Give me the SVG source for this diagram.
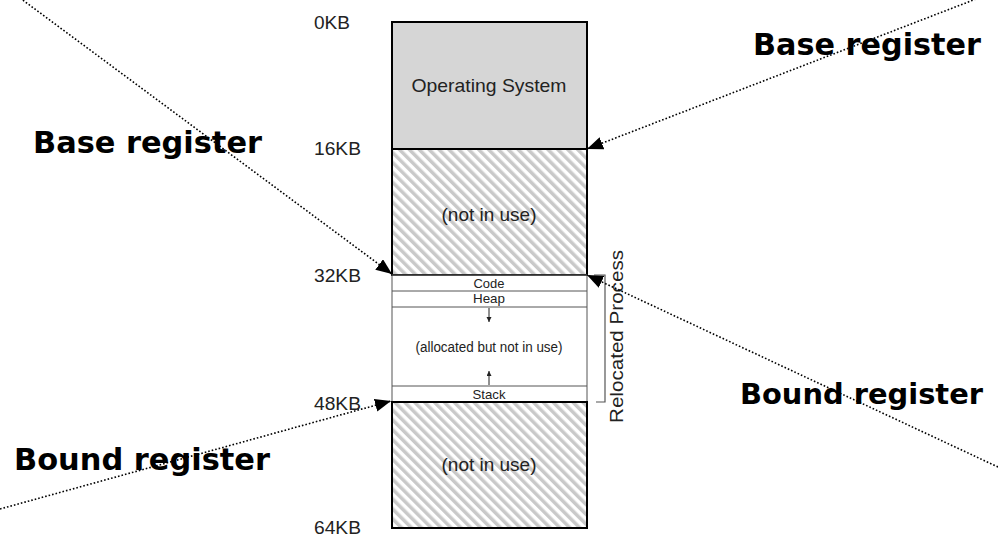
<svg xmlns="http://www.w3.org/2000/svg" width="998" height="537" viewBox="0 0 998 537">
  <style>
    .lbl { font-family: "Liberation Sans", Arial, sans-serif; fill: #222; }
    .reg { font-family: "DejaVu Sans", Verdana, sans-serif; font-weight: bold; fill: #000; }
    .conn { fill: none; stroke: #000; stroke-width: 1.6; stroke-dasharray: 1.6 2; }
    .thin { stroke: #555; stroke-width: 1; fill: none; }
  </style>
  <defs>
    <pattern id="hatch" patternUnits="userSpaceOnUse" width="7" height="7" patternTransform="rotate(-45)">
      <rect width="7" height="7" fill="#fff"/>
      <rect width="3.5" height="7" fill="#c9c9c9"/>
    </pattern>
    <marker id="ah" markerUnits="userSpaceOnUse" markerWidth="18" markerHeight="14" refX="16" refY="6.5" orient="auto">
      <path d="M0,0 L16,6.5 L0,13 z" fill="#000"/>
    </marker>
    <marker id="sh" markerUnits="userSpaceOnUse" markerWidth="6" markerHeight="6" refX="5" refY="2.5" orient="auto">
      <path d="M0,0 L5,2.5 L0,5 z" fill="#222"/>
    </marker>
  </defs>
  <rect width="998" height="537" fill="#fff"/>

  <g id="os">
    <rect x="392" y="22" width="195" height="127" fill="#d6d6d6" stroke="#000" stroke-width="2"/>
    <text class="lbl" x="489" y="92" font-size="19" text-anchor="middle" textLength="155" lengthAdjust="spacingAndGlyphs">Operating System</text>
  </g>
  <g id="free-top">
    <rect x="392" y="149" width="195" height="126" fill="url(#hatch)" stroke="#000" stroke-width="2"/>
    <text class="lbl" x="489" y="221" font-size="19" text-anchor="middle" textLength="95" lengthAdjust="spacingAndGlyphs">(not in use)</text>
  </g>
  <g id="process">
    <rect x="392" y="275" width="195" height="127" fill="#fff" stroke="#555" stroke-width="1"/>
    <line class="thin" x1="392" y1="291" x2="587" y2="291"/>
    <line class="thin" x1="392" y1="307" x2="587" y2="307"/>
    <line class="thin" x1="392" y1="386" x2="587" y2="386"/>
    <line x1="392" y1="275" x2="587" y2="275" stroke="#333" stroke-width="1.5"/>
    <text class="lbl" x="489" y="288" font-size="13" text-anchor="middle" textLength="31" lengthAdjust="spacingAndGlyphs">Code</text>
    <text class="lbl" x="489" y="303" font-size="13" text-anchor="middle" textLength="32" lengthAdjust="spacingAndGlyphs">Heap</text>
    <text class="lbl" x="489" y="352" font-size="14" text-anchor="middle" textLength="147" lengthAdjust="spacingAndGlyphs">(allocated but not in use)</text>
    <text class="lbl" x="489" y="399" font-size="13" text-anchor="middle" textLength="33" lengthAdjust="spacingAndGlyphs">Stack</text>
    <line x1="489" y1="308" x2="489" y2="322" stroke="#222" stroke-width="1" marker-end="url(#sh)"/>
    <line x1="489" y1="385" x2="489" y2="371" stroke="#222" stroke-width="1" marker-end="url(#sh)"/>
  </g>
  <g id="free-bottom">
    <rect x="392" y="402" width="195" height="126" fill="url(#hatch)" stroke="#000" stroke-width="2"/>
    <text class="lbl" x="489" y="471" font-size="19" text-anchor="middle" textLength="95" lengthAdjust="spacingAndGlyphs">(not in use)</text>
  </g>
  <g id="bracket">
    <path d="M594,275 H605 V402 H596" fill="none" stroke="#555" stroke-width="1.2"/>
    <text class="lbl" transform="translate(623,423) rotate(-90)" font-size="18" textLength="173" lengthAdjust="spacingAndGlyphs">Relocated Process</text>
  </g>
  <g id="addresses">
    <text class="lbl" x="314" y="29" font-size="17.5" textLength="36" lengthAdjust="spacingAndGlyphs">0KB</text>
    <text class="lbl" x="314" y="155" font-size="17.5" textLength="47" lengthAdjust="spacingAndGlyphs">16KB</text>
    <text class="lbl" x="314" y="282" font-size="17.5" textLength="47" lengthAdjust="spacingAndGlyphs">32KB</text>
    <text class="lbl" x="314" y="410" font-size="17.5" textLength="47" lengthAdjust="spacingAndGlyphs">48KB</text>
    <text class="lbl" x="314" y="534" font-size="17.5" textLength="47" lengthAdjust="spacingAndGlyphs">64KB</text>
  </g>

  <g id="connectors">
    <line class="conn" x1="20" y1="-2" x2="392" y2="274" marker-end="url(#ah)"/>
    <line class="conn" x1="976" y1="-1" x2="587" y2="149" marker-end="url(#ah)"/>
    <line class="conn" x1="998" y1="467" x2="587" y2="275" marker-end="url(#ah)"/>
    <line class="conn" x1="0" y1="509" x2="391" y2="401" marker-end="url(#ah)"/>
  </g>

  <g id="labels">
    <text class="reg" x="33" y="153" font-size="30" textLength="229" lengthAdjust="spacingAndGlyphs">Base register</text>
    <text class="reg" x="753" y="55" font-size="30" textLength="228" lengthAdjust="spacingAndGlyphs">Base register</text>
    <text class="reg" x="740" y="404" font-size="29" textLength="243" lengthAdjust="spacingAndGlyphs">Bound register</text>
    <text class="reg" x="14" y="470" font-size="30" textLength="256" lengthAdjust="spacingAndGlyphs">Bound register</text>
  </g>
</svg>
